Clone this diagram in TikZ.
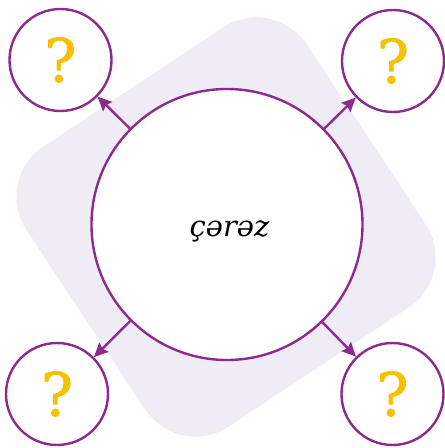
\documentclass[tikz,border=0pt]{standalone}
\usepackage{fontspec}
\newfontfamily\labelfont{DejaVu Serif}
\newfontfamily\qfont[FakeBold=1.3]{DejaVu Serif}
\usetikzlibrary{arrows.meta}
\definecolor{bgl}{HTML}{EFECF5}
\definecolor{purp}{HTML}{8E2A8E}
\definecolor{gold}{HTML}{F8C100}
\tikzset{
  bigc/.style={circle, draw=purp, line width=2.4pt, fill=white, minimum size=271pt, inner sep=0pt},
  smallc/.style={circle, draw=purp, line width=2.4pt, fill=white, minimum size=102pt, inner sep=0pt,
    font=\qfont\fontsize{60}{60}\selectfont, text=gold},
  lbltext/.style={font=\labelfont\itshape\fontsize{29}{29}\selectfont, inner sep=0pt, anchor=base},
  arr/.style={draw=purp, line width=2.4pt, -{Stealth[length=14pt,width=13pt,inset=2pt]}}
}
\begin{document}
\begin{tikzpicture}[x=1pt,y=1pt]
\useasboundingbox (0,0) rectangle (445,448);
\fill[bgl, rotate around={33.5:(226,221)}, rounded corners=60pt] (58,53) rectangle (394,389);
\node[bigc] (c) at (227,223.5) {};
\node[lbltext] (lbl) at (229.5,211) {çərəz};
\node[smallc] (tl) at (60.5,388) {?};
\node[smallc] (tr) at (393,387) {?};
\node[smallc] (bl) at (57,54) {?};
\node[smallc] (br) at (392.5,54) {?};
\draw[arr] (c) -- (tl);
\draw[arr] (c) -- (tr);
\draw[arr] (c) -- (bl);
\draw[arr] (c) -- (br);
\end{tikzpicture}
\end{document}
